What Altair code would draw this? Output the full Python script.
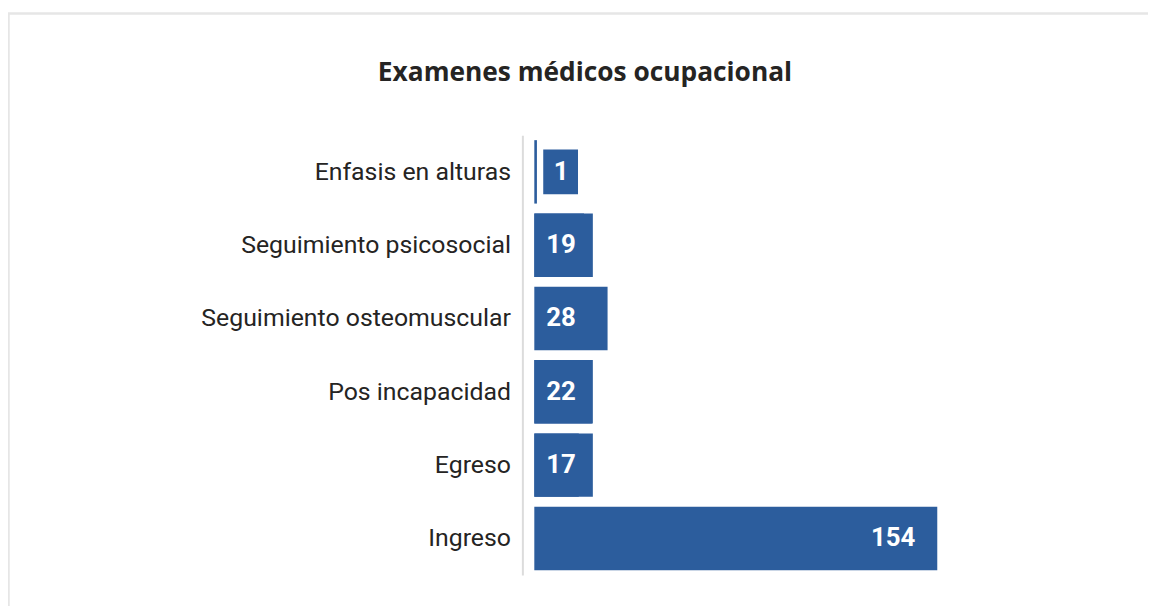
import altair as alt
import pandas as pd

categories = ["Enfasis en alturas", "Seguimiento psicosocial", "Seguimiento osteomuscular",
              "Pos incapacidad", "Egreso", "Ingreso"]
values = [1, 19, 28, 22, 17, 154]
title_text = "Examenes médicos ocupacional"

df = pd.DataFrame({"cat": categories, "val": values})

BAR = "#2C5D9D"
W, H = 527, 443
PL, PT = 530, 126

x_enc = alt.X("val:Q", scale=alt.Scale(domain=[0, 200], nice=False), axis=None)
y_enc = alt.Y("cat:N", sort=categories, title=None,
              scale=alt.Scale(paddingInner=0.135, paddingOuter=0.0675),
              axis=alt.Axis(domain=True, domainColor="#dcdcdc", domainWidth=2, offset=12,
                            ticks=False, labelPadding=12, labelFont="Roboto", labelFontSize=25,
                            labelColor="#252423", labelLimit=400, grid=False))
y_plain = alt.Y("cat:N", sort=categories)

bars = alt.Chart(df).mark_bar(color=BAR).encode(x=x_enc, y=y_enc)

frame = alt.Chart(pd.DataFrame({"k": [0]})).mark_rect(
    fill=None, stroke="#e6e6e6", strokeWidth=2.5
).encode(x=alt.value(-PL + 0.5), x2=alt.value(700), y=alt.value(-PT + 3.5), y2=alt.value(600))

title = alt.Chart(pd.DataFrame({"t": [title_text]})).mark_text(
    font="Open Sans", fontSize=26.5, fontWeight="bold", color="#252423",
    align="center", baseline="alphabetic"
).encode(x=alt.value(589 - 8 - PL), y=alt.value(79 - 8 - PT), text="t:N")

# label background for the tiny value (box around the text)
tiny_box = alt.Chart(df).transform_filter("datum.val < 5").mark_point(
    shape="M-0.778,-1H0.778V1H-0.778Z", filled=True, opacity=1, color=BAR, size=2025, xOffset=26.5
).encode(x=alt.datum(0), y=y_plain)

# label background for short bars (box spans full bar height)
short_box = alt.Chart(df).transform_filter("datum.val >= 5 && datum.val < 25").mark_point(
    shape="M-0.922,-1H0.922V1H-0.922Z", filled=True, opacity=1, color=BAR, size=4080, xOffset=29.5
).encode(x=alt.datum(0), y=y_plain)

small_lbl = alt.Chart(df).transform_filter("datum.val < 100").mark_text(
    align="center", baseline="middle", dx=27, color="white", font="Roboto",
    fontWeight="bold", fontSize=26
).encode(x=alt.datum(0), y=y_plain, text="val:Q")

big_lbl = alt.Chart(df).transform_filter("datum.val >= 100").mark_text(
    align="right", baseline="middle", dx=-22, color="white", font="Roboto",
    fontWeight="bold", fontSize=26
).encode(x="val:Q", y=y_plain, text="val:Q")

chart = alt.layer(frame, title, bars, tiny_box, short_box, small_lbl, big_lbl).properties(
    width=W, height=H,
    autosize=alt.AutoSizeParams(type="none"),
    padding={"left": PL, "top": PT, "right": 1148 - PL - W, "bottom": 29},
).configure_view(stroke=None)

chart.save("out.html", embed_options={"renderer": "svg", "actions": False})
